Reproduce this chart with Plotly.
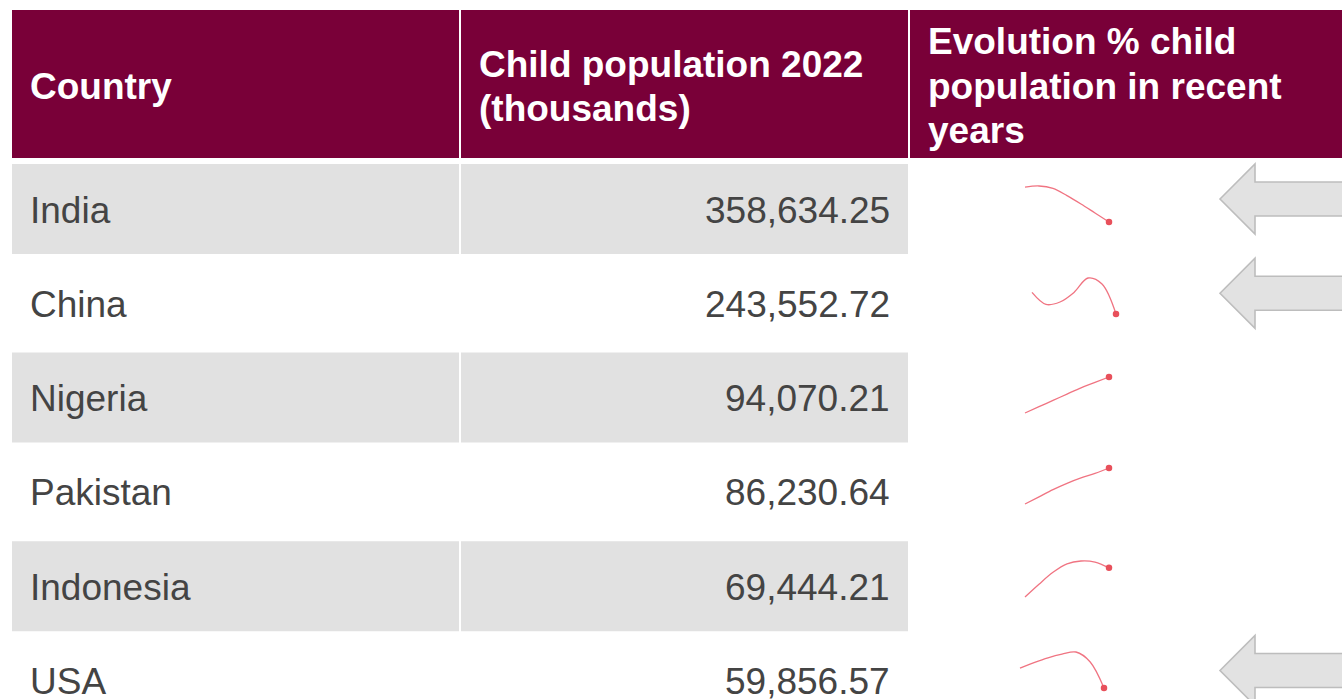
import plotly.graph_objects as go

# ---------------------------------------------------------------- data
countries = ["India", "China", "Nigeria", "Pakistan", "Indonesia", "USA"]
child_pop_2022 = [358634.25, 243552.72, 94070.21, 86230.64, 69444.21, 59856.57]

years = [2016, 2017, 2018, 2019, 2020, 2021, 2022]
# share of the world child population (%) per year
share_india = [18.38, 18.40, 18.36, 18.24, 18.10, 17.95, 17.80]
share_china = [12.28, 12.18, 12.20, 12.28, 12.40, 12.35, 12.10]
share_nigeria = [4.30, 4.37, 4.44, 4.51, 4.58, 4.64, 4.70]
share_pakistan = [3.90, 3.98, 4.06, 4.13, 4.19, 4.24, 4.30]
share_indonesia = [3.300, 3.371, 3.437, 3.484, 3.500, 3.494, 3.462]
share_usa = [3.010, 3.041, 3.068, 3.088, 3.100, 3.046, 2.900]
shares = [share_india, share_china, share_nigeria, share_pakistan,
          share_indonesia, share_usa]

header_lines = [
    ["Country"],
    ["Child population 2022", "(thousands)"],
    ["Evolution % child", "population in recent", "years"],
]

# ---------------------------------------------------------------- layout geometry (pixels)
W, H = 1342, 699
COL_LEFT = [12, 461, 910]
COL_RIGHT = [459, 908, 1360]
HEAD_TOP, HEAD_BOT = 10, 158
ROW_C0, ROW_PITCH = 210, 94.3
PAD = 16
FONT = "Liberation Sans, Arial, Helvetica, sans-serif"
FS = 37
HEAD_BG = "#790038"
STRIPE = "#E1E1E1"
TEXT = "#444444"

SPARK_X0 = [1025, 1032, 1025, 1025, 1025, 1020]
SPARK_TOP = [186, 278, 377, 468, 561, 652]
SPARK_W, SPARK_H, SPARK_M = 84, 36, 8


def px(x):
    return x / W


def py(y):
    return 1 - y / H


shapes, annotations = [], []


def rect(x0, y0, x1, y1, color):
    shapes.append(dict(type="rect", xref="paper", yref="paper",
                       x0=px(x0), x1=px(x1), y0=py(y1), y1=py(y0),
                       fillcolor=color, line=dict(width=0), layer="below"))


# header cells and their (vertically centred) wrapped titles
head_c = (HEAD_TOP + HEAD_BOT) / 2 + 2
for c, lines in enumerate(header_lines):
    rect(COL_LEFT[c], HEAD_TOP, COL_RIGHT[c], HEAD_BOT, HEAD_BG)
    n = len(lines)
    for k, line in enumerate(lines):
        yc = head_c + (k - (n - 1) / 2) * 44
        annotations.append(dict(
            text=line, xref="paper", yref="paper",
            x=px(COL_LEFT[c] + PAD), y=py(yc), xanchor="left", yanchor="middle",
            showarrow=False,
            font=dict(family=FONT, size=FS, color="white", weight="bold")))

# body rows
for i, (name, val) in enumerate(zip(countries, child_pop_2022)):
    yc = ROW_C0 + i * ROW_PITCH
    if i % 2 == 0:
        for c in range(2):
            rect(COL_LEFT[c], yc - 46, COL_RIGHT[c], yc + 44, STRIPE)
    annotations.append(dict(
        text=name, xref="paper", yref="paper",
        x=px(COL_LEFT[0] + PAD), y=py(yc), xanchor="left", yanchor="middle",
        showarrow=False, font=dict(family=FONT, size=FS, color=TEXT)))
    annotations.append(dict(
        text=f"{val:,.2f}", xref="paper", yref="paper",
        x=px(COL_RIGHT[1] - PAD), y=py(yc), xanchor="right", yanchor="middle",
        showarrow=False, font=dict(family=FONT, size=FS, color=TEXT)))

    # a grey arrow flags countries whose share has fallen over the period
    if shares[i][-1] < shares[i][0]:
        ac = yc - 11
        tip, back, right = 1220, 1255, 1400
        pts = [(tip, ac), (back, ac - 35), (back, ac - 17), (right, ac - 17),
               (right, ac + 17), (back, ac + 17), (back, ac + 35)]
        path = "M " + " L ".join(f"{px(x):.5f},{py(y):.5f}" for x, y in pts) + " Z"
        shapes.append(dict(type="path", xref="paper", yref="paper", path=path,
                           fillcolor="#E2E2E2",
                           line=dict(color="#BDBDBD", width=1.6), layer="above"))

# ---------------------------------------------------------------- sparklines
fig = go.Figure()
layout_axes = {}
for i, vals in enumerate(shares):
    k = "" if i == 0 else str(i + 1)
    xa, ya = "x" + k, "y" + k
    fig.add_trace(go.Scatter(
        x=years, y=vals, mode="lines", xaxis=xa, yaxis=ya,
        line=dict(shape="spline", smoothing=1.0, color="#F07482", width=1.3),
        hovertemplate=countries[i] + " %{x}: %{y:.2f}%<extra></extra>"))
    fig.add_trace(go.Scatter(
        x=[years[-1]], y=[vals[-1]], mode="markers", xaxis=xa, yaxis=ya,
        marker=dict(color="#E8505B", size=6.5),
        hovertemplate=countries[i] + " %{x}: %{y:.2f}%<extra></extra>"))

    x0, top = SPARK_X0[i], SPARK_TOP[i]
    m = SPARK_M
    xspan = years[-1] - years[0]
    lo, hi = min(vals), max(vals)
    yspan = hi - lo
    layout_axes["xaxis" + k] = dict(
        domain=[px(x0 - m), px(x0 + SPARK_W + m)],
        range=[years[0] - xspan * m / SPARK_W, years[-1] + xspan * m / SPARK_W],
        visible=False, fixedrange=True, anchor=ya)
    layout_axes["yaxis" + k] = dict(
        domain=[py(top + SPARK_H + m), py(top - m)],
        range=[lo - yspan * m / SPARK_H, hi + yspan * m / SPARK_H],
        visible=False, fixedrange=True, anchor=xa)

fig.update_layout(
    width=W, height=H,
    margin=dict(l=0, r=0, t=0, b=0),
    paper_bgcolor="white", plot_bgcolor="rgba(0,0,0,0)",
    showlegend=False,
    shapes=shapes, annotations=annotations,
    **layout_axes,
)

fig.write_html("out.html", config={"displayModeBar": False})
